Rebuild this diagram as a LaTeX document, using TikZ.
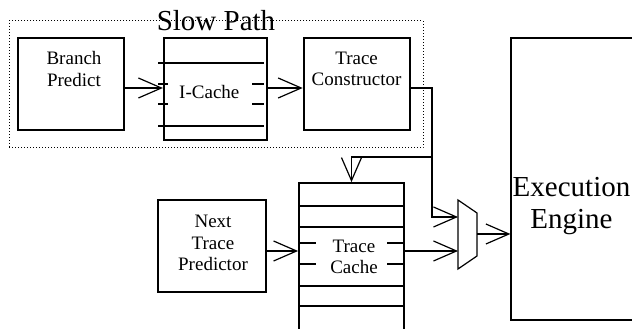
\documentclass[tikz,border=0pt]{standalone}
\usepackage{fontspec}
\setmainfont{Liberation Serif}
\usetikzlibrary{arrows.meta, positioning}

\begin{document}
\begin{tikzpicture}[
    x=1pt, y=1pt,
    >={Straight Barb[length=23pt, width=20pt]},
    % Styles
    unit/.style={draw, line width=1.8pt, minimum width=106pt, minimum height=92pt, inner sep=0pt},
    cachebox/.style={draw, line width=1.8pt, minimum width=#1, inner sep=0pt},
    txt/.style={font=\fontsize{19}{21.5}\selectfont, align=center, inner sep=0pt},
    bigtxt/.style={font=\fontsize{29}{32}\selectfont, align=center, inner sep=0pt},
    wire/.style={->, line width=1.2pt},
    slot/.style={line width=1.8pt},
]
\useasboundingbox (0,0) rectangle (632,329);

% ── Slow path ──
\node[draw, dotted, line width=1pt, minimum width=414pt, minimum height=127pt, inner sep=0pt,
      label={[bigtxt, anchor=center]north:Slow Path}] (slow) at (216,244.5) {};

\node[unit, label={[txt, xshift=3pt, yshift=15pt]center:Branch\\Predict}] (bp) at (71,245) {};
\node[cachebox=103pt, minimum height=102pt, right=38pt of bp.north east, anchor=north west,
      label={[txt, xshift=-6pt, yshift=-3pt]center:I-Cache}] (ic) {};
\node[unit, right=35pt of ic.north east, anchor=north west,
      label={[txt, yshift=15pt]center:Trace\\Constructor}] (tc) {};

% I-Cache lines
\foreach \y in {266,203} \draw[slot] (158,\y) -- (264,\y);
\foreach \y in {245,225} {
  \draw[slot] (158,\y) -- (168,\y);
  \draw[slot] (252,\y) -- (264,\y);
}

\draw[wire] ([yshift=-4pt]bp.east) -- ([yshift=-4pt]bp.east -| ic.west);
\draw[wire] ([yshift=1pt]ic.east) -- ([yshift=1pt]ic.east -| tc.west);

% ── Fast path ──
\node[unit, minimum width=108pt, label={[txt, xshift=1pt, yshift=3pt]center:Next\\Trace\\Predictor}] (ntp) at (212,83) {};
\node[cachebox=105pt, minimum height=156pt, label={[txt, xshift=2.5pt, yshift=4pt]center:Trace\\Cache}] (tcache) at (351.5,68) {};

% Trace Cache lines
\foreach \y in {123,102,43,23} \draw[slot] (299,\y) -- (404,\y);
\foreach \y in {86,65} {
  \draw[slot] (299,\y) -- (316,\y);
  \draw[slot] (387,\y) -- (404,\y);
}

% ── Mux and execution ──
\coordinate (mux-in1) at (458,112);
\coordinate (mux-in2) at (458,78);
\coordinate (mux-out) at (477,95);
\coordinate (split) at (432,172);
\draw[line width=1.2pt] (458,129) -- (477,116) -- (477,73) -- (458,60) -- cycle;

\node[draw, line width=1.2pt, minimum width=125pt, minimum height=282pt, inner sep=0pt,
      label={[bigtxt, xshift=-2pt, yshift=-27pt]center:Execution\\Engine}] (ee) at (573.5,150) {};

\draw[wire] ([yshift=-4pt]tc.east) -| (split) |- (mux-in1);
\draw[wire] (split) -| (tcache.north);
\draw[wire] ([yshift=-5pt]ntp.east) -- ([yshift=-5pt]ntp.east -| tcache.west);
\draw[wire] (tcache.east |- mux-in2) -- (mux-in2);
\draw[wire] (mux-out) -- (mux-out -| ee.west);

\end{tikzpicture}
\end{document}
